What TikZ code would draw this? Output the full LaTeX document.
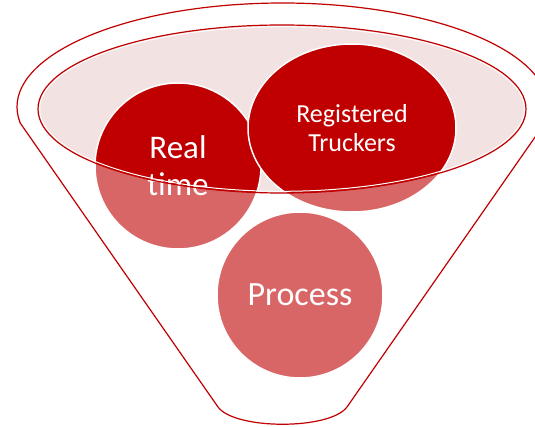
\documentclass[tikz,border=0pt]{standalone}
\usepackage{fontspec}
\setmainfont{Carlito}
\usetikzlibrary{shapes.geometric}
\definecolor{truckred}{HTML}{C00000}
\definecolor{lowred}{HTML}{D96666}
\definecolor{rimpink}{HTML}{F2E2E2}

\begin{document}
\begin{tikzpicture}[x=1pt,y=1pt,
		disc/.style={circle,draw=white,line width=1.5pt,fill=lowred,text=white,align=center,inner sep=0pt,
			path picture={\fill[truckred] (mouth) ellipse[x radius=244pt,y radius=84pt];}}]
			\useasboundingbox (0,0) rectangle (535,426);
			\clip (0,0) rectangle (535,426);
			% funnel body
			\draw[truckred,line width=1.2pt,fill=white] (20.2,303)
				arc[start angle=188.85,end angle=-8.85,x radius=265.5pt,y radius=104pt]
				-- (347,19) .. controls (330,-4) and (235,-4) .. (218,19) -- cycle;
			% opening of the funnel
			\coordinate (mouth) at (282,317);
			\fill[rimpink] (mouth) ellipse[x radius=244pt,y radius=84pt];
			\node(realtime)[disc,minimum size=166pt,font=\fontsize{33}{37}\selectfont] at (178,260) {Real\\time};
			\node(truckers)[disc,ellipse,minimum width=208pt,minimum height=168pt,font=\fontsize{26}{29}\selectfont] at (352,298) {Registered\\Truckers};
			\node(process)[disc,minimum size=166pt,font=\fontsize{34}{40}\selectfont] at (300,131) {Process};
			\draw[white,line width=1pt] (mouth) ellipse[x radius=242.3pt,y radius=82.3pt];
			\draw[truckred,line width=1.2pt] (mouth) ellipse[x radius=244pt,y radius=84pt];
		\end{tikzpicture}
\end{document}
